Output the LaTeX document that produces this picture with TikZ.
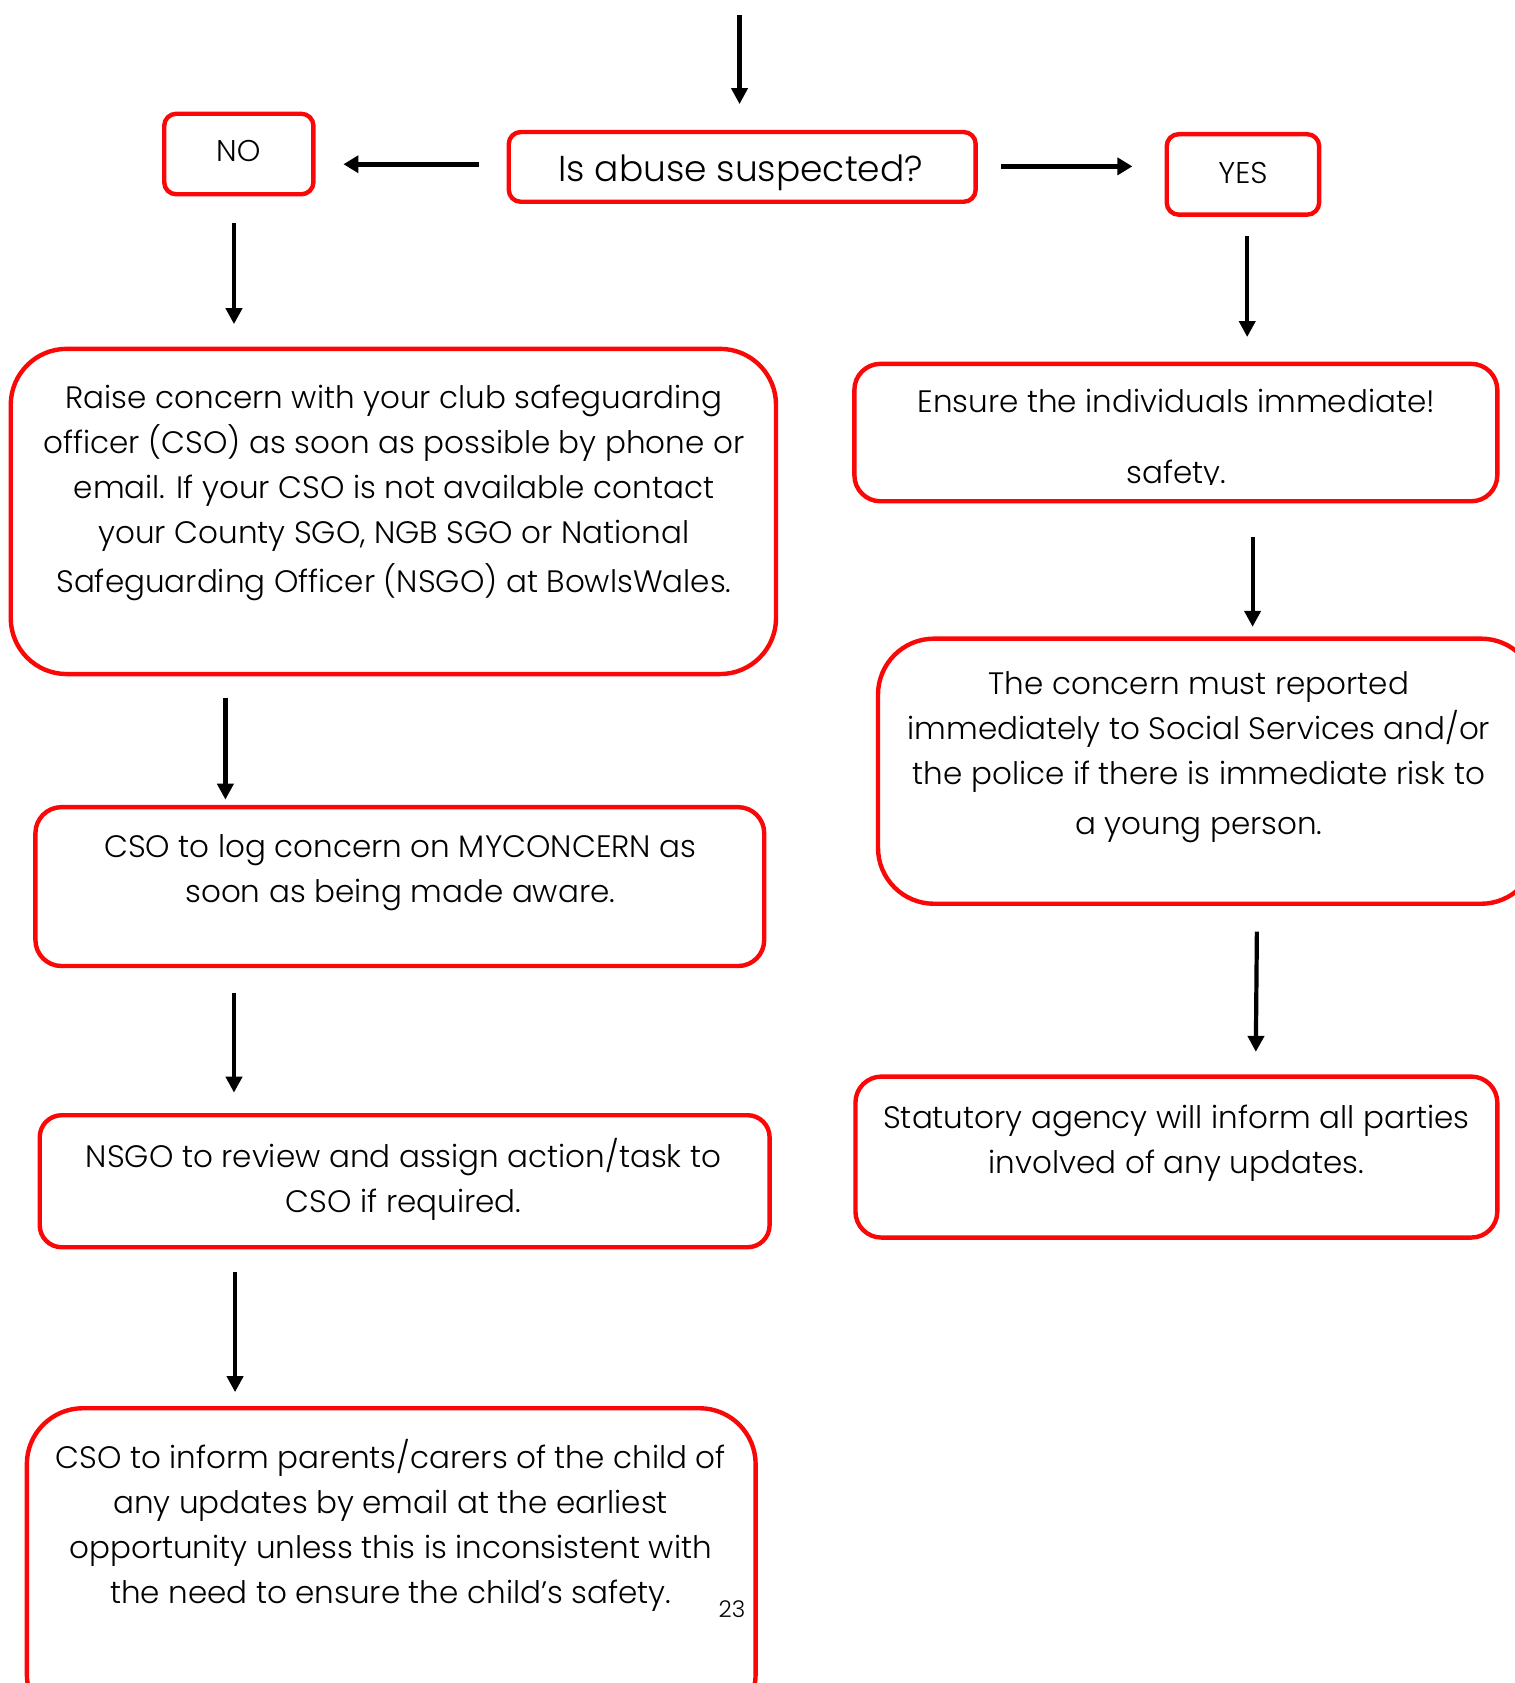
\documentclass[tikz,border=0pt]{standalone}
\usepackage{fontspec}
\setmainfont{Poppins}[UprightFont={* Light}]
\usetikzlibrary{arrows.meta,fit}
\definecolor{boxred}{RGB}{250,8,8}
\begin{document}
\begin{tikzpicture}[x=0.5365pt,y=-0.5365pt,
  box/.style={draw=boxred, line width=2.2pt, inner sep=0pt, rounded corners=#1},
  box/.default=13pt,
  txt/.style={align=center, inner sep=0pt, font=\fontsize{15.5}{22.5}\selectfont},
  arr/.style={draw=black, line width=2.1pt, -{Triangle[length=8pt,width=8pt]}},
  harr/.style={draw=black, line width=2.7pt, -{Triangle[length=7.5pt,width=8.5pt]}}]
\useasboundingbox (0,0) rectangle (1411,1568);
% corner coordinates
\coordinate (no1) at (153,106);  \coordinate (no2) at (292,181);
\coordinate (is1) at (474,123);  \coordinate (is2) at (909,188);
\coordinate (ye1) at (1087,125); \coordinate (ye2) at (1229,200);
\coordinate (ra1) at (10,325);   \coordinate (ra2) at (723,628);
\coordinate (en1) at (796,339);  \coordinate (en2) at (1395,467);
\coordinate (co1) at (818,595);  \coordinate (co2) at (1432,842);
\coordinate (st1) at (797,1003); \coordinate (st2) at (1395,1153);
\coordinate (lo1) at (33,752);   \coordinate (lo2) at (712,900);
\coordinate (ns1) at (37,1039);  \coordinate (ns2) at (717,1162);
\coordinate (in1) at (25,1312);  \coordinate (in2) at (704,1612);
% boxes
\node[box=6pt, fit=(no1)(no2)] (no) {};
\node[box=6pt, fit=(is1)(is2)] (is) {};
\node[box=6pt, fit=(ye1)(ye2)] (yes) {};
\node[box=28pt, fit=(ra1)(ra2)] (raise) {};
\node[box=13pt, fit=(en1)(en2)] (ensure) {};
\node[box=28pt, fit=(co1)(co2)] (concern) {};
\node[box=13pt, fit=(st1)(st2)] (stat) {};
\node[box=13pt, fit=(lo1)(lo2)] (log) {};
\node[box=11pt, fit=(ns1)(ns2)] (nsgo) {};
\node[box=28pt, fit=(in1)(in2)] (inform) {};
% texts
\node[txt, font=\fontsize{15}{18}\selectfont] (no-t) at (222,141) {NO};
\node[txt, font=\fontsize{18}{22}\selectfont] (is-t) at (690,161) {Is abuse suspected?};
\node[txt, font=\fontsize{15}{18}\selectfont] (yes-t) at (1158,161) {YES};
\node[txt] (raise-t) at (367,459) {Raise concern with your club safeguarding\\
officer (CSO) as soon as possible by phone or\\
email. If your CSO is not available contact\\
your County SGO, NGB SGO or National\\[2.2pt]
Safeguarding Officer (NSGO) at BowlsWales.};
\begin{scope}
\clip (796,330) rectangle (1395,451);
\node[txt] (ensure-t) at (1096,410) {Ensure the individuals immediate!\\[13pt]safety.};
\end{scope}
\node[txt] (concern-t) at (1117,705) {The concern must reported\\
immediately to Social Services and/or\\
the police if there is immediate risk to\\[2.5pt]
a young person.};
\node[txt] (stat-t) at (1096,1065) {Statutory agency will inform all parties\\involved of any updates.};
\node[txt] (log-t) at (373,813) {CSO to log concern on MYCONCERN as\\soon as being made aware.};
\node[txt] (nsgo-t) at (376,1099) {NSGO to review and assign action/task to\\CSO if required.};
\node[txt] (inform-t) at (364,1421) {CSO to inform parents/carers of the child of\\
any updates by email at the earliest\\
opportunity unless this is inconsistent with\\
the need to ensure the child’s safety.};
\node[inner sep=0pt, font=\fontsize{11.5}{13}\selectfont] (page) at (682,1499) {23};
% arrow end points
\coordinate (a0s) at (689,14);   \coordinate (a0e) at (689,97);
\coordinate (a1s) at (446,153);  \coordinate (a1e) at (320,153);
\coordinate (a2s) at (933,155);  \coordinate (a2e) at (1055,155);
\coordinate (a3s) at (218,208);  \coordinate (a3e) at (218,302);
\coordinate (a4s) at (1162,220); \coordinate (a4e) at (1162,314);
\coordinate (a5s) at (1167,500); \coordinate (a5e) at (1167,584);
\coordinate (a6s) at (1171,868); \coordinate (a6e) at (1170,980);
\coordinate (a7s) at (210,650);  \coordinate (a7e) at (210,745);
\coordinate (a8s) at (218,925);  \coordinate (a8e) at (218,1018);
\coordinate (a9s) at (219,1185); \coordinate (a9e) at (219,1297);
\draw[arr] (a0s) -- (a0e);
\draw[harr] (a1s) -- (a1e);
\draw[harr] (a2s) -- (a2e);
\draw[arr] (a3s) -- (a3e);
\draw[arr] (a4s) -- (a4e);
\draw[arr] (a5s) -- (a5e);
\draw[arr] (a6s) -- (a6e);
\draw[arr] (a7s) -- (a7e);
\draw[arr] (a8s) -- (a8e);
\draw[arr] (a9s) -- (a9e);
\end{tikzpicture}
\end{document}
